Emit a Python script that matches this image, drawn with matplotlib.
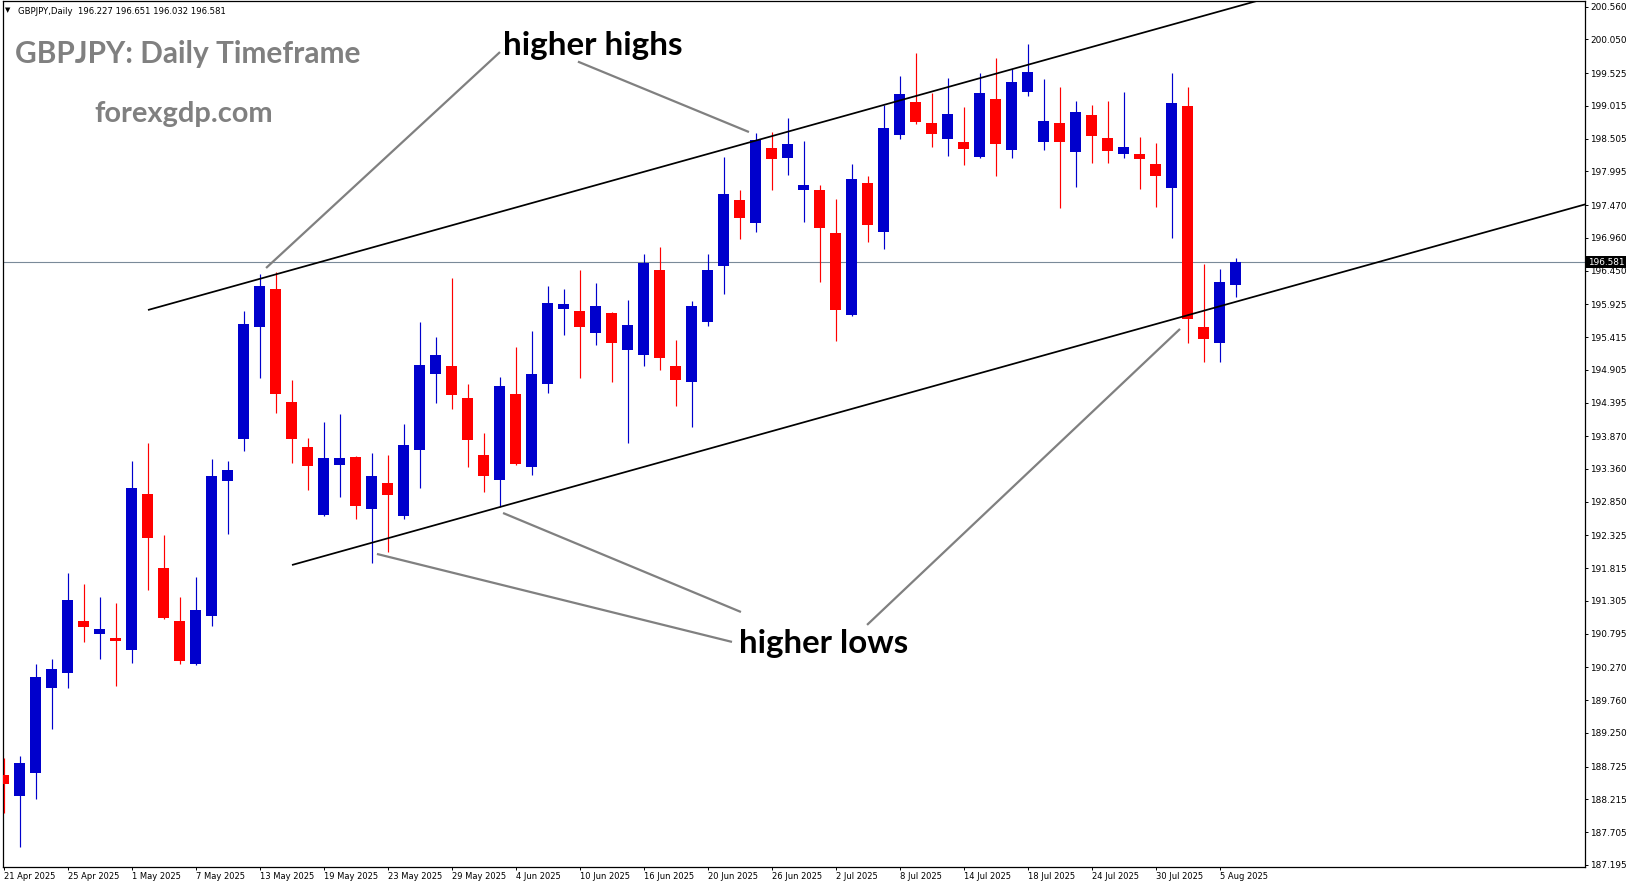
import matplotlib
matplotlib.use("Agg")
import matplotlib.pyplot as plt
import matplotlib.transforms as mtransforms
import numpy as np
import pandas as pd

# ---------------- data ----------------
symbol = "GBPJPY"
timeframe = "Daily"

opens = [188.588, 188.270, 188.628, 189.953, 190.186, 190.991, 190.794, 190.727, 190.544, 192.970,
         191.817, 190.991, 190.327, 191.074, 193.177, 193.831, 195.576, 196.163, 194.403, 193.702,
         192.642, 193.421, 193.546, 192.741, 193.141, 192.627, 193.655, 194.839, 194.963, 194.465,
         193.577, 193.188, 194.527, 193.390, 194.683, 195.851, 195.820, 195.477, 195.789, 195.212,
         195.135, 196.459, 194.963, 194.714, 195.649, 196.521, 197.549, 197.191, 198.359, 198.203,
         197.705, 197.705, 197.035, 195.758, 197.813, 197.051, 198.562, 199.076, 198.748, 198.500,
         198.453, 198.219, 199.122, 198.328, 199.231, 198.453, 198.748, 198.297, 198.873, 198.515,
         198.266, 198.266, 198.110, 197.736, 199.013, 195.576, 195.326, 196.227]
highs = [188.858, 188.889, 190.322, 190.400, 191.739, 191.568, 191.365, 191.272, 193.484, 193.764,
         192.331, 191.365, 191.677, 193.515, 193.484, 195.820, 196.396, 196.427, 194.745, 193.842,
         194.091, 194.216, 193.560, 193.608, 193.577, 194.060, 195.648, 195.415, 196.334, 194.683,
         193.920, 194.792, 195.259, 195.508, 196.209, 196.162, 196.459, 196.256, 195.805, 195.991,
         196.708, 196.825, 195.368, 195.976, 196.708, 198.219, 197.705, 198.593, 198.608, 198.826,
         198.469, 197.783, 197.565, 198.110, 197.923, 199.029, 199.481, 199.839, 199.216, 199.449,
         198.998, 199.527, 199.761, 199.590, 199.979, 199.434, 199.309, 199.091, 199.029, 199.091,
         199.231, 198.531, 198.437, 199.527, 199.309, 196.552, 196.474, 196.651]
lows = [188.006, 187.476, 188.224, 189.314, 189.953, 190.669, 190.404, 189.984, 190.342, 191.479,
        191.027, 190.327, 190.310, 190.918, 192.351, 193.644, 194.781, 194.236, 193.448, 193.037,
        192.627, 192.923, 192.580, 191.900, 192.071, 192.580, 193.063, 194.387, 194.294, 193.390,
        193.001, 192.767, 193.421, 193.266, 194.543, 195.446, 194.776, 195.290, 194.714, 193.764,
        194.963, 194.901, 194.341, 194.014, 195.586, 196.085, 196.942, 197.051, 197.705, 197.939,
        197.206, 196.272, 195.353, 195.742, 196.895, 196.786, 198.500, 198.733, 198.375, 198.234,
        198.094, 198.203, 197.923, 198.203, 199.169, 198.328, 197.424, 197.752, 198.125, 198.125,
        198.203, 197.721, 197.440, 196.958, 195.322, 195.030, 195.030, 196.032]
closes = [188.457, 188.780, 190.119, 190.244, 191.319, 190.903, 190.867, 190.685, 193.063, 192.289,
          191.043, 190.373, 191.163, 193.250, 193.344, 195.618, 196.209, 194.532, 193.831, 193.410,
          193.530, 193.530, 192.783, 193.250, 192.954, 193.733, 194.979, 195.135, 194.511, 193.811,
          193.250, 194.652, 193.437, 194.839, 195.944, 195.929, 195.571, 195.898, 195.321, 195.602,
          196.568, 195.088, 194.745, 195.898, 196.459, 197.642, 197.269, 198.484, 198.188, 198.421,
          197.783, 197.113, 195.836, 197.876, 197.159, 198.671, 199.200, 198.765, 198.577, 198.889,
          198.344, 199.216, 198.422, 199.387, 199.543, 198.780, 198.453, 198.920, 198.546, 198.313,
          198.375, 198.188, 197.923, 199.060, 195.695, 195.389, 196.272, 196.581]

dates = pd.bdate_range("2025-04-21", "2025-08-06")
date_strings = [d.strftime("%-d %b %Y") for d in dates]

xtick_labels = ["21 Apr 2025", "25 Apr 2025", "1 May 2025", "7 May 2025", "13 May 2025",
                "19 May 2025", "23 May 2025", "29 May 2025", "4 Jun 2025", "10 Jun 2025",
                "16 Jun 2025", "20 Jun 2025", "26 Jun 2025", "2 Jul 2025", "8 Jul 2025",
                "14 Jul 2025", "18 Jul 2025", "24 Jul 2025", "30 Jul 2025", "5 Aug 2025"]
ytick_values = [200.560, 200.050, 199.525, 199.015, 198.505, 197.995, 197.470, 196.960, 196.450,
                195.925, 195.415, 194.905, 194.395, 193.870, 193.360, 192.850, 192.325, 191.815,
                191.305, 190.795, 190.270, 189.760, 189.250, 188.725, 188.215, 187.705, 187.195]

# channel lines: (bar index, price)
upper_channel = [(9.03, 195.836), (69.57, 200.041)]
lower_channel = [(18.03, 191.864), (80.40, 196.199)]
# pointer lines: ((x0, p0), (x1, p1))
highs_pointers = [((31.03, 199.854), (16.41, 196.490)),
                  ((35.90, 199.705), (46.59, 198.608))]
lows_pointers = [((46.09, 191.132), (31.22, 192.674)),
                 ((45.53, 190.666), (23.34, 192.036)),
                 ((53.97, 190.931), (73.53, 195.541))]

# ---------------- figure ----------------
W, H = 1631, 888
fig = plt.figure(figsize=(W / 100, H / 100), dpi=100)
fig.patch.set_facecolor("white")
ax = fig.add_axes([2.7 / W, (H - 867) / H, (1585 - 2.7) / W, (867 - 1) / H])
ax.set_facecolor("white")
ax.set_xlim(-0.05, 98.84)
ax.set_ylim(187.160, 200.649)

o = np.array(opens); h = np.array(highs); l = np.array(lows); c = np.array(closes)
x = np.arange(len(o))
up = c >= o
colors = np.where(up, "#0000CC", "#FF0000")
px_per_price = 866 / (200.649 - 187.160)

ax.axhline(closes[-1], color="#7a8a99", lw=0.8, zorder=1)
ax.vlines(x, l, h, colors=colors, lw=0.85, zorder=3)
body_bottom = np.minimum(o, c)
body_h = np.maximum(np.abs(c - o), 1.2 / px_per_price)
ax.bar(x, body_h, bottom=body_bottom, width=11 / 16, color=colors, lw=0, zorder=4)

xmax = ax.get_xlim()[1] + 2
for line in (upper_channel, lower_channel):
    (x0, y0), (x1, y1) = line
    slope = (y1 - y0) / (x1 - x0)
    ax.plot([x0, xmax], [y0, y0 + slope * (xmax - x0)], color="black", lw=1.25, zorder=6,
            solid_capstyle="butt")

for (p0, p1) in highs_pointers + lows_pointers:
    ax.plot([p0[0], p1[0]], [p0[1], p1[1]], color="#808080", lw=1.6, zorder=6,
            solid_capstyle="butt")

# axes styling
for s in ax.spines.values():
    s.set_color("black")
    s.set_linewidth(0.9)

ax.yaxis.tick_right()
ax.set_yticks(ytick_values)
ax.set_yticklabels([f"{v:.3f}" for v in ytick_values])
ax.tick_params(axis="y", right=True, left=False, labelright=True, labelleft=False,
               length=2.5, width=0.7, pad=1.5, labelsize=6.4, direction="out")

xtick_pos = [date_strings.index(s) for s in xtick_labels]
ax.set_xticks(xtick_pos)
ax.set_xticklabels(xtick_labels)
ax.tick_params(axis="x", length=2.5, width=0.7, pad=1.2, labelsize=6.0, direction="out")
for lbl in ax.get_xticklabels():
    lbl.set_ha("left")

# current price box
trans = mtransforms.blended_transform_factory(ax.transAxes, ax.transData)
trans = mtransforms.offset_copy(trans, fig=fig, x=3, y=0, units="dots")
ax.text(1.0, closes[-1], f"{closes[-1]:.3f}", transform=trans, ha="left", va="center",
        fontsize=6.4, color="white", zorder=10, clip_on=False,
        bbox=dict(boxstyle="square,pad=0.18", fc="black", ec="none"))

# ---------------- texts ----------------
renderer = fig.canvas.get_renderer()


def fit_width(t, target):
    w = t.get_window_extent(renderer).width
    t.set_fontsize(t.get_fontsize() * target / w)


def ftext(xp, yp, s, target_w=None, **kw):
    t = fig.text(xp / W, 1 - yp / H, s, **kw)
    if target_w:
        fit_width(t, target_w)
    return t


ftext(4.5, 10.5, "\u25bc", fontsize=5, va="center", ha="left", color="black")
header = f"{symbol},{timeframe}  {opens[-1]:.3f} {highs[-1]:.3f} {lows[-1]:.3f} {closes[-1]:.3f}"
ftext(18, 14, header, target_w=207, fontsize=7, va="baseline", ha="left",
      family="DejaVu Sans", color="black")

ftext(15, 63, f"{symbol}: {timeframe} Timeframe", target_w=345, fontsize=20, va="baseline",
      ha="left", family="Lato", weight="bold", color="#808080")
ftext(94, 122, "forexgdp.com", target_w=179, fontsize=20, va="baseline", ha="left",
      family="Lato", weight="bold", color="#808080")
ftext(503, 55, "higher highs", target_w=179, fontsize=20, va="baseline", ha="left",
      family="Lato", weight="bold", color="black")
ftext(739, 653, "higher lows", target_w=169, fontsize=20, va="baseline", ha="left",
      family="Lato", weight="bold", color="black")

fig.savefig("out.png", dpi=100, facecolor="white")
